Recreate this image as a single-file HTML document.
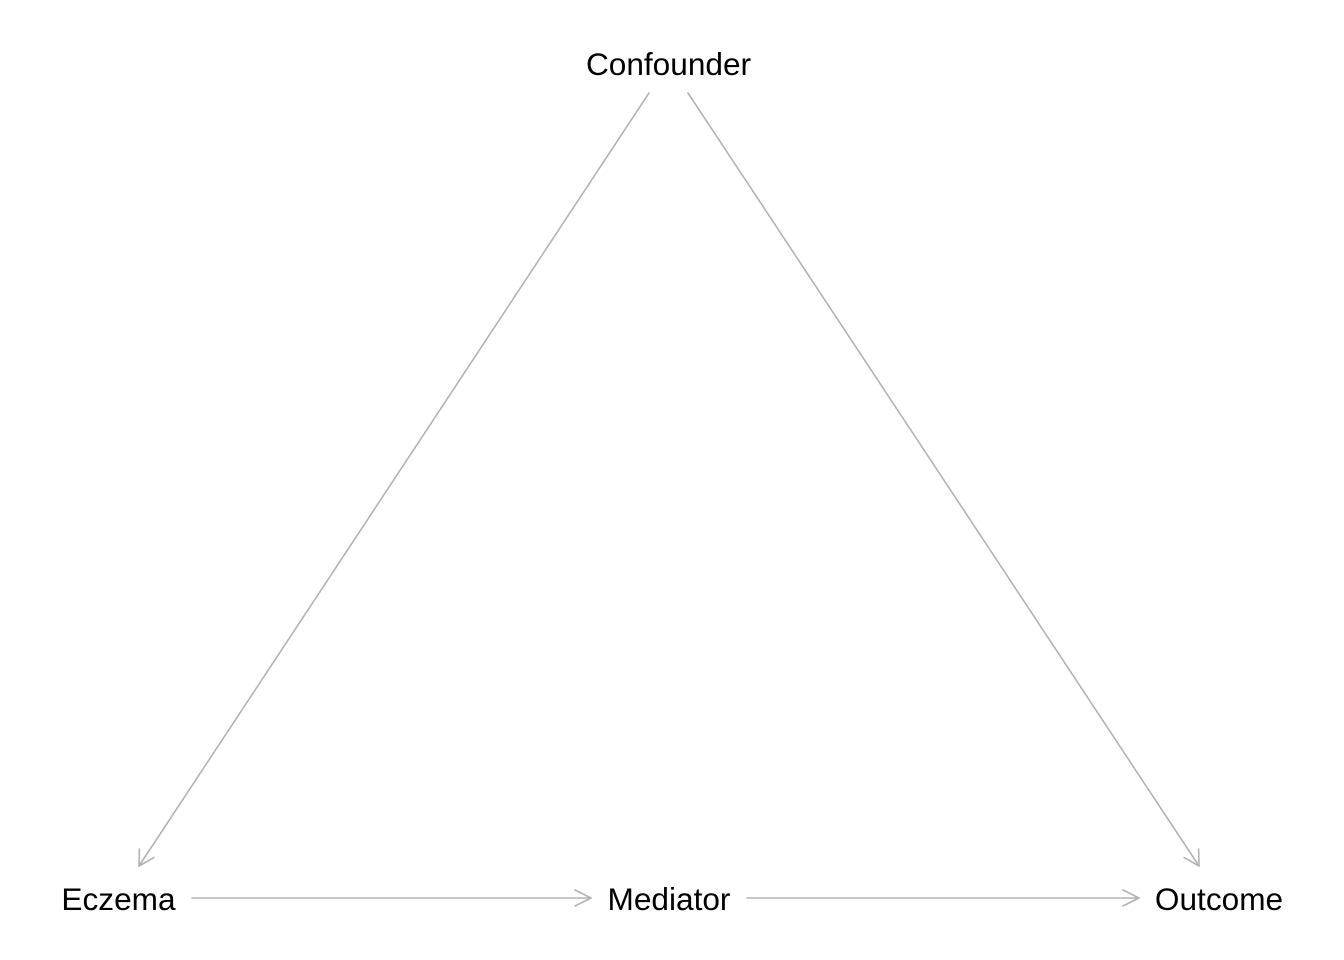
<!DOCTYPE html>
<html><head><style>
html,body{margin:0;padding:0;background:#fff;}
svg{display:block;}
text{font-family:"Liberation Sans",sans-serif;font-size:31.6px;fill:#000;}
</style></head><body>
<svg width="1344" height="960" viewBox="0 0 1344 960">
<g stroke="#b3b3b3" stroke-width="1.6" fill="none" stroke-linecap="round" stroke-linejoin="round">
<line x1="649" y1="93" x2="139" y2="866"/>
<polyline points="139.4,849 139,866 153.9,857.6"/>
<line x1="688" y1="93" x2="1199" y2="866"/>
<polyline points="1184.1,857.6 1199,866 1198.6,849"/>
<line x1="192" y1="898" x2="591" y2="898"/>
<polyline points="575,890 591,898 575,906"/>
<line x1="747" y1="898" x2="1139" y2="898"/>
<polyline points="1123,890 1139,898 1123,906"/>
</g>
<text x="668.5" y="75" text-anchor="middle">Confounder</text>
<text x="118.5" y="910" text-anchor="middle">Eczema</text>
<text x="669" y="910" text-anchor="middle">Mediator</text>
<text x="1219" y="910" text-anchor="middle">Outcome</text>
</svg>
</body></html>
